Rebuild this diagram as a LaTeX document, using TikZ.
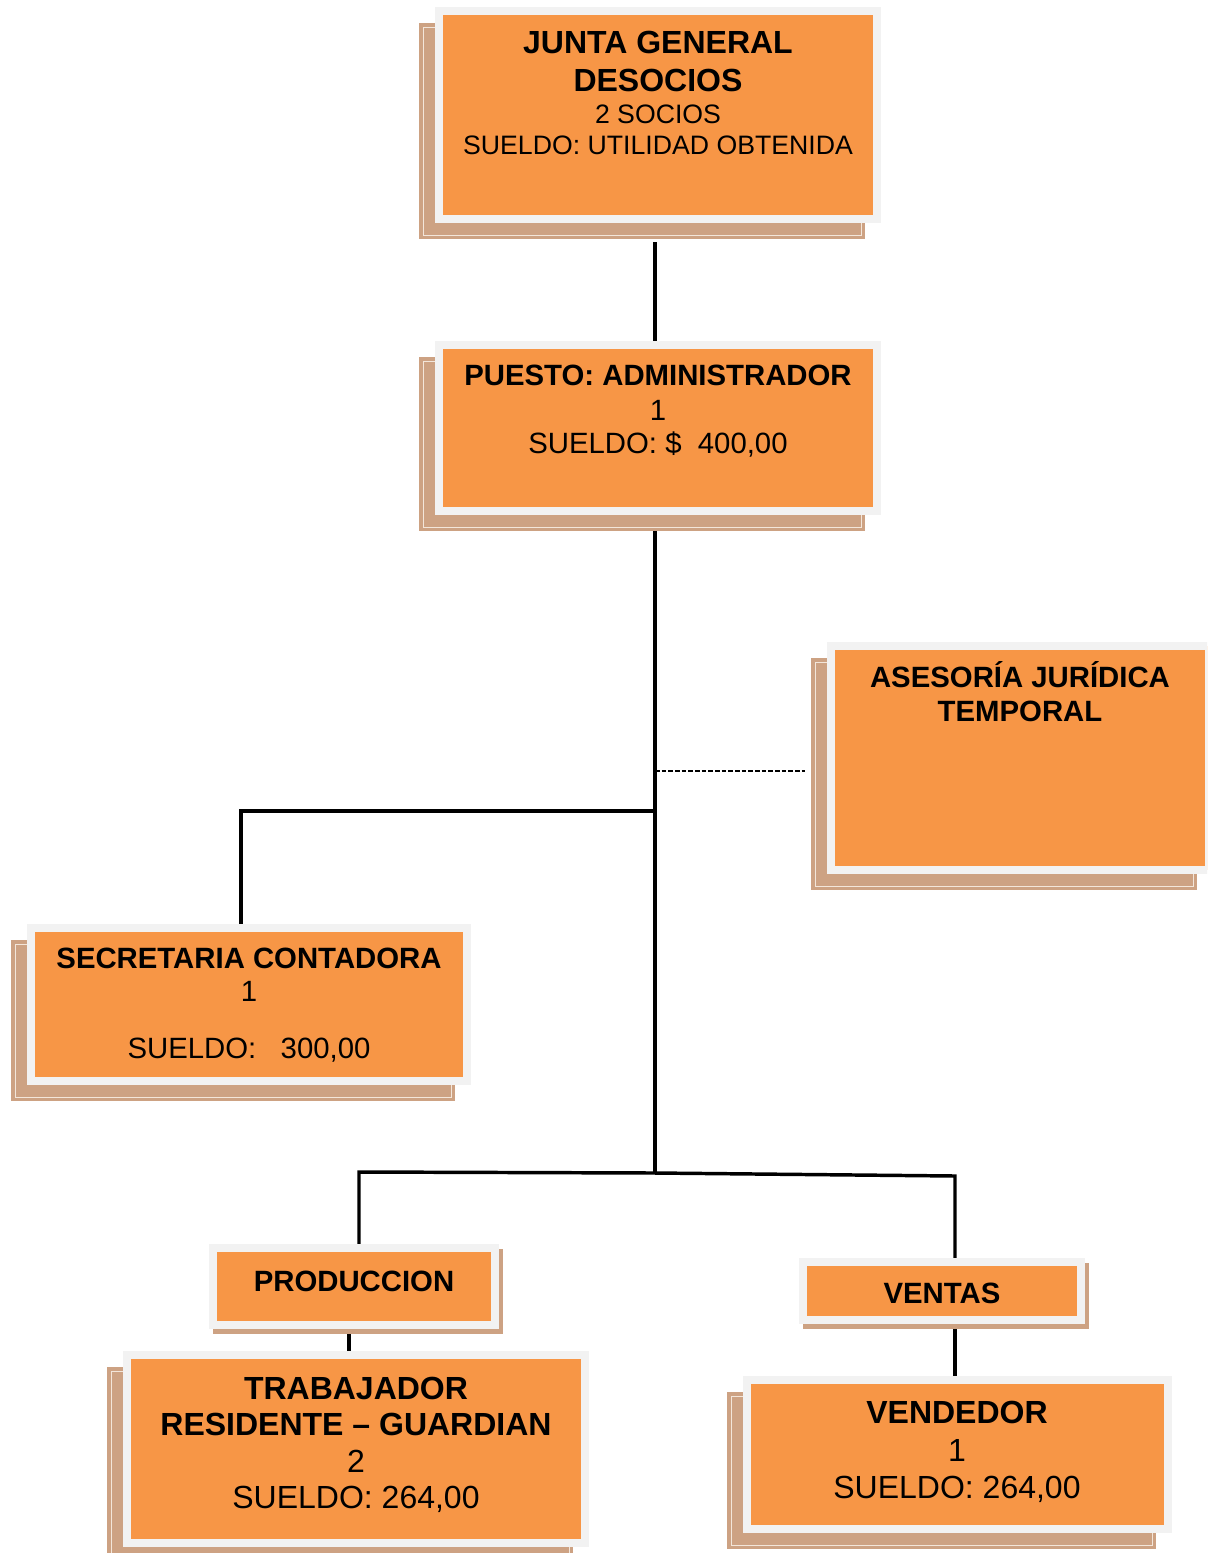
\documentclass[tikz,border=0pt]{standalone}
\usepackage{fontspec}
\setmainfont{Liberation Sans}

\definecolor{boxorange}{HTML}{F79646}
\definecolor{framegray}{HTML}{F2F2F2}
\definecolor{shadowtan}{HTML}{CDA283}
\definecolor{shadowrule}{HTML}{F3E6DA}

\tikzset{
  frame/.style={rectangle, draw=framegray, fill=boxorange, line width=6pt,
                inner sep=0pt, outer sep=0pt},
  shadowfill/.style={fill=shadowtan},
  shadowedge/.style={draw=shadowrule, line width=0.7pt},
  conn/.style={line width=2.6pt, draw=black},
  link/.style={line width=1.1pt, draw=black, dash pattern=on 3.6pt off 1.4pt},
  lbl/.style={anchor=base, inner sep=0pt, outer sep=0pt},
}

% #1 name, #2..#5 outer frame (x1,y1,x2,y2 in px), #6 #7 shadow offset
\newcommand\orgbox[7]{%
  \fill[shadowfill] (#2+#6,#3+#7) rectangle (#4+#6,#5+#7);
  \draw[shadowedge] (#2+#6+4,#3+#7+4) rectangle (#4+#6-4,#5+#7-4);
  \node[frame, minimum width={(#4-#2-8)*0.75pt}, minimum height={(#5-#3-8)*0.75pt}]
    (#1) at ({(#2+#4)/2},{(#3+#5)/2}) {};
}
% same box with a slim drop shadow
\newcommand\tabbox[7]{%
  \fill[shadowfill] (#2+#6,#3+#7) rectangle (#4+#6,#5+#7);
  \node[frame, minimum width={(#4-#2-8)*0.75pt}, minimum height={(#5-#3-8)*0.75pt}]
    (#1) at ({(#2+#4)/2},{(#3+#5)/2}) {};
}

\begin{document}
\begin{tikzpicture}[x=0.75pt,y=-0.75pt]
\useasboundingbox (0,0) rectangle (1207,1553);
\clip (0,0) rectangle (1207,1553);

% connector points
\coordinate (t0) at (655,242);
\coordinate (t1) at (655,341);
\coordinate (t2) at (655,527);
\coordinate (tdash) at (655,771);
\coordinate (dashend) at (805,771);
\coordinate (tsec) at (655,811);
\coordinate (secknee) at (241,811);
\coordinate (secin) at (241,924);
\coordinate (tbot) at (655,1173);
\coordinate (prodknee) at (359,1172);
\coordinate (prodin) at (359,1244);
\coordinate (ventknee) at (955,1176);
\coordinate (ventin) at (955,1258);

% connectors
\draw[conn] (t0) -- (t1);
\draw[conn] (t2) -- (tbot);
\draw[conn] (tsec) -- (secknee) -- (secin);
\draw[link] (tdash) -- (dashend);
\draw[conn] (prodin) -- (prodknee) -- (tbot) -- (ventknee) -- (ventin);
\draw[conn] (349,1327) -- (349,1353);
\draw[conn] (955,1322) -- (955,1378);

% boxes
\orgbox{junta}{435}{7}{881}{223}{-16}{16}
\orgbox{admin}{435}{341}{881}{515}{-16}{16}
\orgbox{asesoria}{827}{642}{1213}{874}{-16}{16}
\orgbox{secretaria}{27}{924}{471}{1085}{-16}{16}
\tabbox{produccion}{209}{1244}{499}{1329}{4}{5}
\tabbox{ventas}{799}{1258}{1085}{1324}{4}{5}
\orgbox{trabajador}{123}{1351}{589}{1547}{-16}{16}
\orgbox{vendedor}{743}{1376}{1172}{1533}{-16}{16}

% labels
\node[lbl, font=\fontsize{24}{28}\selectfont\bfseries] (j1) at (658,53) {JUNTA GENERAL};
\node[lbl, font=\fontsize{24}{28}\selectfont\bfseries] (j2) at (658,91) {DESOCIOS};
\node[lbl, font=\fontsize{20}{24}\selectfont] (j3) at (658,123) {2 SOCIOS};
\node[lbl, font=\fontsize{20}{24}\selectfont] (j4) at (658,154) {SUELDO: UTILIDAD OBTENIDA};

\node[lbl, font=\fontsize{22}{26}\selectfont\bfseries] (a1) at (658,385) {PUESTO: ADMINISTRADOR};
\node[lbl, font=\fontsize{22}{26}\selectfont] (a2) at (658,420) {1};
\node[lbl, font=\fontsize{22}{26}\selectfont] (a3) at (658,453) {SUELDO: \$\ \ 400,00};

\node[lbl, font=\fontsize{22}{26}\selectfont\bfseries] (s1) at (1020,687) {ASESORÍA JURÍDICA};
\node[lbl, font=\fontsize{22}{26}\selectfont\bfseries] (s2) at (1020,721) {TEMPORAL};

\node[lbl, font=\fontsize{22}{26}\selectfont\bfseries] (c1) at (249,968) {SECRETARIA CONTADORA};
\node[lbl, font=\fontsize{22}{26}\selectfont] (c2) at (249,1001) {1};
\node[lbl, font=\fontsize{22}{26}\selectfont] (c3) at (249,1058) {SUELDO:\ \ \ 300,00};

\node[lbl, font=\fontsize{22}{26}\selectfont\bfseries] (p1) at (354,1291) {PRODUCCION};
\node[lbl, font=\fontsize{22}{26}\selectfont\bfseries] (v1) at (942,1303) {VENTAS};

\node[lbl, font=\fontsize{24}{28}\selectfont\bfseries] (w1) at (356,1399) {TRABAJADOR};
\node[lbl, font=\fontsize{24}{28}\selectfont\bfseries] (w2) at (356,1435) {RESIDENTE – GUARDIAN};
\node[lbl, font=\fontsize{24}{28}\selectfont] (w3) at (356,1472) {2};
\node[lbl, font=\fontsize{24}{28}\selectfont] (w4) at (356,1508) {SUELDO: 264,00};

\node[lbl, font=\fontsize{24}{28}\selectfont\bfseries] (d1) at (957,1423) {VENDEDOR};
\node[lbl, font=\fontsize{24}{28}\selectfont] (d2) at (957,1461) {1};
\node[lbl, font=\fontsize{24}{28}\selectfont] (d3) at (957,1498) {SUELDO: 264,00};
\end{tikzpicture}
\end{document}
